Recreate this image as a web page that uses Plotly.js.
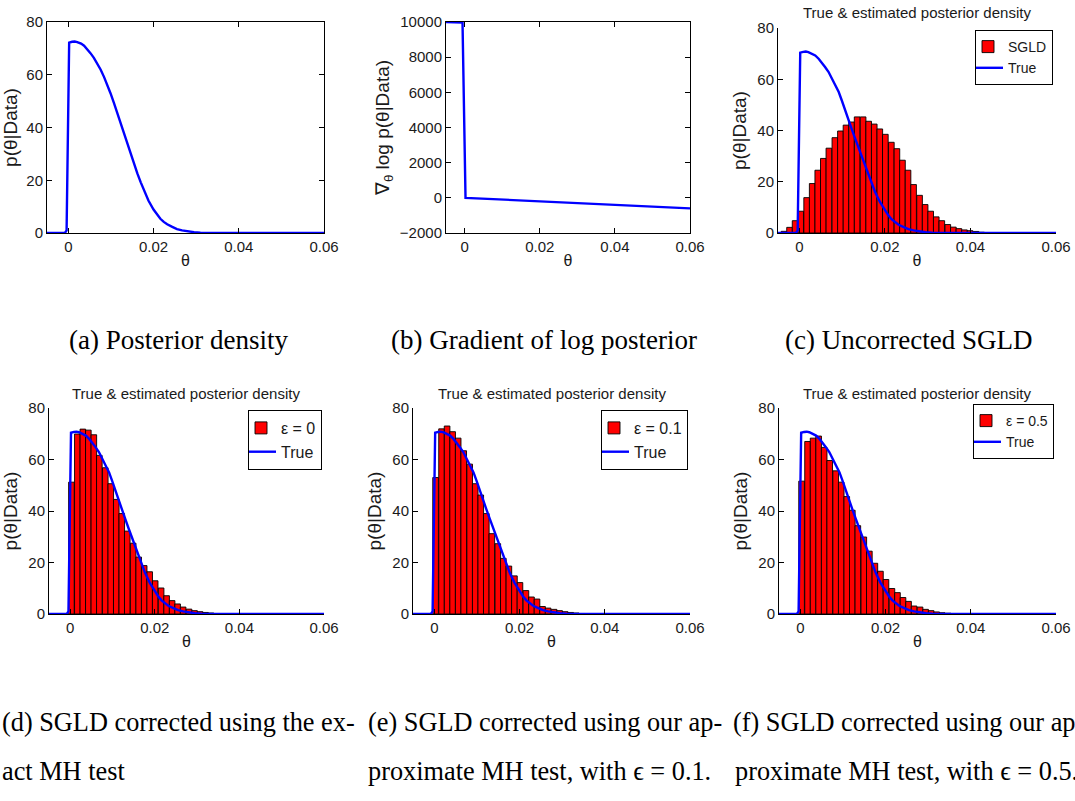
<!DOCTYPE html>
<html>
<head>
<meta charset="utf-8">
<script src="https://cdn.plot.ly/plotly-3.0.1.min.js"></script>
<style>html,body{margin:0;padding:0;background:#fff;}#chart{width:1075px;height:801px;}</style>
</head>
<body>
<div id="chart"></div>
<script>
// ---------- data ----------
// true posterior density (panel a)
const thetaTrue = [-0.005, -0.0008, -0.0004, 0.0002, 0.0009, 0.0015, 0.0021, 0.0030, 0.0037, 0.0045, 0.0052, 0.0060, 0.0068, 0.0076, 0.0084, 0.0092, 0.0099, 0.0107, 0.0115, 0.0122, 0.0130, 0.0138, 0.0146, 0.0154, 0.0162, 0.0170, 0.0177, 0.0188, 0.0200, 0.0208, 0.0216, 0.0224, 0.0232, 0.0244, 0.0255, 0.0267, 0.0279, 0.0295, 0.0310, 0.0330, 0.0350, 0.0400, 0.0600];
const densityA   = [0, 0, 1.0, 72.2, 72.5, 72.6, 72.4, 71.8, 71.0, 69.7, 68.2, 66.4, 64.4, 61.9, 59.1, 56.2, 53.0, 49.3, 45.4, 41.6, 37.8, 34.0, 30.2, 26.4, 22.6, 19.2, 16.2, 12.3, 8.9, 7.0, 5.4, 4.2, 3.3, 2.3, 1.5, 1.0, 0.6, 0.3, 0.15, 0.06, 0.03, 0, 0];
// true density as drawn in panels c-f
const densityEst = [0, 0, 1.0, 70.4, 70.7, 70.8, 70.6, 70.0, 69.3, 68.0, 66.6, 64.8, 62.9, 60.4, 57.8, 55.0, 51.8, 48.2, 44.4, 40.7, 37.0, 33.3, 29.6, 25.9, 22.3, 18.9, 16.0, 12.2, 8.8, 6.9, 5.3, 4.1, 3.2, 2.3, 1.5, 1.0, 0.6, 0.3, 0.15, 0.06, 0.03, 0, 0];

// gradient of log posterior (panel b)
const thetaGrad = [-0.005, -0.0006, 0.0002, 0.06];
const gradLogPost = [10000, 9970, 0, -600];

// histogram of uncorrected SGLD (panel c)
const binsC = [-0.0036, -0.0023, -0.0010, 0.0003, 0.0017, 0.0030, 0.0043, 0.0056, 0.0069, 0.0083, 0.0096, 0.0109, 0.0122, 0.0135, 0.0149, 0.0162, 0.0175, 0.0188, 0.0201, 0.0215, 0.0228, 0.0241, 0.0254, 0.0267, 0.0281, 0.0294, 0.0307, 0.0320, 0.0333, 0.0347, 0.0360, 0.0373, 0.0386, 0.0399, 0.0413, 0.0426, 0.0439];
const sgld = [0.65, 2.2, 4.8, 8.5, 13.8, 19.3, 24.5, 29.1, 33.1, 37.2, 39.8, 42.1, 43.3, 45.3, 45.3, 43.6, 42.5, 40.6, 38.5, 35.4, 32.9, 28.4, 24.5, 18.9, 14.7, 11.1, 8.5, 6.3, 4.8, 3.3, 2.3, 1.7, 1.2, 0.9, 0.6, 0.3, 0.2];

// histograms of corrected SGLD (panels d-f)
const binsDEF = [0.0003, 0.0017, 0.0030, 0.0043, 0.0056, 0.0069, 0.0083, 0.0096, 0.0109, 0.0122, 0.0135, 0.0149, 0.0162, 0.0175, 0.0188, 0.0201, 0.0215, 0.0228, 0.0241, 0.0254, 0.0267, 0.0281, 0.0294, 0.0307, 0.0320, 0.0333, 0.0347, 0.0360];
const exactMH = [51.2, 69.9, 71.8, 71.4, 69.6, 61.6, 56.8, 50.6, 44.5, 39.0, 32.2, 27.5, 22.1, 18.8, 16.4, 12.9, 10.1, 7.1, 5.2, 3.9, 2.7, 1.9, 1.3, 0.9, 0.6, 0.4, 0.2, 0.1];
const approxEps01 = [53.0, 71.9, 73.0, 70.8, 68.3, 63.4, 58.2, 50.6, 46.2, 39.0, 31.2, 27.3, 21.6, 18.6, 14.8, 12.2, 9.1, 6.6, 5.8, 2.9, 2.3, 1.8, 1.3, 0.9, 0.6, 0.4, 0.2, 0.1];
const approxEps05 = [51.6, 67.0, 68.3, 69.1, 64.7, 59.6, 55.6, 51.2, 45.6, 40.3, 34.3, 29.9, 24.4, 19.7, 16.6, 13.4, 9.9, 8.3, 6.4, 4.9, 3.1, 2.7, 1.8, 1.3, 0.8, 0.5, 0.3, 0.15];
const binWidth = 0.00132;

const xTicks = [0, 0.02, 0.04, 0.06];
const xTickText = ['0', '0.02', '0.04', '0.06'];
const densTicks = [0, 20, 40, 60, 80];
const densTickText = ['0', '20', '40', '60', '80'];
const gradTicks = [-2000, 0, 2000, 4000, 6000, 8000, 10000];
const gradTickText = ['\u22122000', '0', '2000', '4000', '6000', '8000', '10000'];

const subplotTitle = 'True & estimated posterior density';
const legendNames = ['SGLD', 'ε = 0', 'ε = 0.1', 'ε = 0.5'];
const captionsTop = ['(a) Posterior density', '(b) Gradient of log posterior', '(c) Uncorrected SGLD'];
const captionsBottom1 = ['(d) SGLD corrected using the ex-', '(e) SGLD corrected using our ap-', '(f) SGLD corrected using our ap-'];
const captionsBottom2 = ['act MH test', 'proximate MH test, with ϵ = 0.1.', 'proximate MH test, with ϵ = 0.5.'];

// ---------- layout helpers ----------
const W = 1075, H = 801;
const px = v => v / W;
const py = v => 1 - v / H;
const sans = 'Liberation Sans, Arial, Helvetica, sans-serif';
const serif = 'Liberation Serif, Times New Roman, serif';
const ink = '#1a1a1a';
const RED = '#ff0000', BLUE = '#0000ff';

function xaxis(dom, anchor, mirror) {
  return {
    domain: dom, anchor: anchor, range: [-0.005, 0.06],
    tickvals: xTicks, ticktext: xTickText,
    ticks: 'inside', ticklen: 5, tickwidth: 1, tickcolor: '#000',
    showline: true, linecolor: '#000', linewidth: 1, mirror: mirror ? 'ticks' : false,
    showgrid: false, zeroline: false, fixedrange: true,
    tickfont: {family: sans, size: 15, color: ink},
    title: {text: 'θ', font: {family: sans, size: 16, color: ink}, standoff: 0}
  };
}
function yaxis(dom, anchor, mirror, range, ticks, tickText, title) {
  return {
    domain: dom, anchor: anchor, range: range, tickvals: ticks, ticktext: tickText,
    ticks: 'inside', ticklen: 5, tickwidth: 1, tickcolor: '#000',
    showline: true, linecolor: '#000', linewidth: 1, mirror: mirror ? 'ticks' : false,
    showgrid: false, zeroline: false, fixedrange: true,
    tickfont: {family: sans, size: 15, color: ink},
    title: {text: title, font: {family: sans, size: 19, color: ink}, standoff: 5}
  };
}

const rowTop = [py(233), py(22)];
const rowTopC = [py(233), py(28)];
const rowBot = [py(614), py(408)];

const lineStyle = {color: BLUE, width: 2.4};
const barStyle = {color: RED, line: {color: '#000', width: 0.9}};

const traces = [
  {type: 'scatter', mode: 'lines', x: thetaTrue, y: densityA, xaxis: 'x', yaxis: 'y', line: lineStyle, showlegend: false},
  {type: 'scatter', mode: 'lines', x: thetaGrad, y: gradLogPost, xaxis: 'x2', yaxis: 'y2', line: lineStyle, showlegend: false},
  {type: 'bar', x: binsC, y: sgld, width: binWidth, xaxis: 'x3', yaxis: 'y3', marker: barStyle, name: legendNames[0], legend: 'legend'},
  {type: 'scatter', mode: 'lines', x: thetaTrue, y: densityEst, xaxis: 'x3', yaxis: 'y3', line: lineStyle, name: 'True', legend: 'legend'},
  {type: 'bar', x: binsDEF, y: exactMH, width: binWidth, xaxis: 'x4', yaxis: 'y4', marker: barStyle, name: legendNames[1], legend: 'legend2'},
  {type: 'scatter', mode: 'lines', x: thetaTrue, y: densityEst, xaxis: 'x4', yaxis: 'y4', line: lineStyle, name: 'True', legend: 'legend2'},
  {type: 'bar', x: binsDEF, y: approxEps01, width: binWidth, xaxis: 'x5', yaxis: 'y5', marker: barStyle, name: legendNames[2], legend: 'legend3'},
  {type: 'scatter', mode: 'lines', x: thetaTrue, y: densityEst, xaxis: 'x5', yaxis: 'y5', line: lineStyle, name: 'True', legend: 'legend3'},
  {type: 'bar', x: binsDEF, y: approxEps05, width: binWidth, xaxis: 'x6', yaxis: 'y6', marker: barStyle, name: legendNames[3], legend: 'legend4'},
  {type: 'scatter', mode: 'lines', x: thetaTrue, y: densityEst, xaxis: 'x6', yaxis: 'y6', line: lineStyle, name: 'True', legend: 'legend4'}
];

function legendAt(xr, yt, size) {
  return {x: px(xr), y: py(yt), xanchor: 'right', yanchor: 'top', bgcolor: '#fff',
    bordercolor: '#000', borderwidth: 1, font: {family: sans, size: size, color: ink},
    traceorder: 'normal', itemwidth: 30, tracegroupgap: 0, indentation: -8};
}

const annotations = [];
function textAt(text, x, y, font, xanchor) {
  annotations.push({text: text, xref: 'paper', yref: 'paper', x: px(x), y: py(y),
    xanchor: xanchor || 'center', yanchor: 'middle', showarrow: false, font: font});
}
const titleFont = {family: sans, size: 15, color: ink};
textAt(subplotTitle, 917, 12, titleFont);
textAt(subplotTitle, 186, 393, titleFont);
textAt(subplotTitle, 552, 393, titleFont);
textAt(subplotTitle, 917, 393, titleFont);
const capFont = {family: serif, size: 27, color: '#000'};
const capFontB = {family: serif, size: 26.3, color: '#000'};
textAt(captionsTop[0], 178, 340, capFont);
textAt(captionsTop[1], 544, 340, capFont);
textAt(captionsTop[2], 908, 340, capFont);
textAt(captionsBottom1[0], 0, 722, capFontB, 'left');
textAt(captionsBottom1[1], 366, 722, capFontB, 'left');
textAt(captionsBottom1[2], 731, 722, capFontB, 'left');
textAt(captionsBottom2[0], 0, 771, capFontB, 'left');
textAt(captionsBottom2[1], 366, 771, capFontB, 'left');
textAt(captionsBottom2[2], 733, 771, capFontB, 'left');

const layout = {
  width: W, height: H, margin: {l: 0, r: 0, t: 0, b: 0},
  paper_bgcolor: '#fff', plot_bgcolor: '#fff',
  font: {family: sans, color: ink},
  bargap: 0,
  xaxis:  xaxis([px(47), px(324)], 'y', true),
  yaxis:  yaxis(rowTop, 'x', true, [0, 80], densTicks, densTickText, 'p(θ|Data)'),
  xaxis2: xaxis([px(446), px(690)], 'y2', true),
  yaxis2: yaxis(rowTop, 'x2', true, [-2000, 10000], gradTicks, gradTickText, '∇<sub>θ</sub> log p(θ|Data)'),
  xaxis3: xaxis([px(778), px(1056)], 'y3', false),
  yaxis3: yaxis(rowTopC, 'x3', false, [0, 80], densTicks, densTickText, 'p(θ|Data)'),
  xaxis4: xaxis([px(49), px(324)], 'y4', false),
  yaxis4: yaxis(rowBot, 'x4', false, [0, 80], densTicks, densTickText, 'p(θ|Data)'),
  xaxis5: xaxis([px(413), px(690)], 'y5', false),
  yaxis5: yaxis(rowBot, 'x5', false, [0, 80], densTicks, densTickText, 'p(θ|Data)'),
  xaxis6: xaxis([px(779), px(1056)], 'y6', false),
  yaxis6: yaxis(rowBot, 'x6', false, [0, 80], densTicks, densTickText, 'p(θ|Data)'),
  legend:  legendAt(1053, 30, 14),
  legend2: legendAt(322, 410, 16),
  legend3: legendAt(688, 410, 16),
  legend4: legendAt(1054, 404, 14),
  annotations: annotations
};

Plotly.newPlot('chart', traces, layout, {displayModeBar: false, staticPlot: true});
</script>
</body>
</html>
